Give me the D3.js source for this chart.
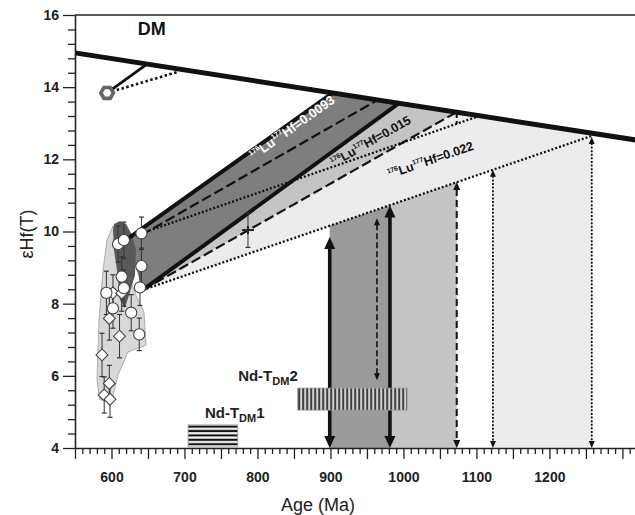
<!DOCTYPE html>
<html><head><meta charset="utf-8">
<script src="https://cdn.jsdelivr.net/npm/d3@7/dist/d3.min.js"></script>
<style>
body{margin:0;background:#fff}
svg{display:block}
text{font-family:"Liberation Sans",Arial,Helvetica,sans-serif}
</style>
</head><body>
<svg id="c" width="635" height="515"></svg>
<script>
// ---------------- data ----------------
const xTickLabels = [600,700,800,900,1000,1100,1200];
const yTickLabels = [4,6,8,10,12,14,16];
const dmLine = [[550,14.95],[1320,12.53]];
// Hf evolution lines  [start],[end on DM]
const solidUpper  = [[621,9.78],[903,13.84]];
const solidLower  = [[643,8.38],[994,13.56]];
const dashedUpper = [[641,9.90],[965,13.65]];
const dashedLower = [[643,8.38],[1073,13.31]];
const dottedUpper = [[641,9.95],[1105,13.21]];
const dottedLower = [[643,8.38],[1258,12.65]];
// model-age bands below the evolution fan: [fromAge, toAge, eHf at from, eHf at to]
const tdmBands = [[899,981.5,10.16,10.73],[981.5,1073,10.73,11.37],[1122.6,1258,11.71,12.65]];
// double arrows: [age, top eHf, bottom eHf]
const thickArrows = [[899,9.85,4.0],[981.5,10.72,4.0]];
const dashArrows  = [[1073,11.37,4.0]];
const thinDashArrows = [[963.7,10.37,5.88]];
const dotArrows   = [[1122.6,11.71,4.0],[1258,12.62,4.0]];
const dashLink    = [[1073,13.31],[1073,12.98]];
// zircon samples: [age, eHf, 2sigma]
const circlePts = [[609,9.65,0.5],[617,9.76,0.5],[641,9.95,0.45],[641,9.04,0.5],[614,8.75,0.55],
  [617,8.43,0.5],[639,8.45,0.5],[593,8.30,0.6],[602,7.87,0.55],[627,7.75,0.5],[638,7.15,0.45]];
const diamondPts = [[602,8.30,0.5],[614,8.29,0.5],[597,7.59,0.6],[611,7.10,0.6],[587,6.58,0.6],
  [597,5.79,0.5],[590,5.47,0.5],[598,5.35,0.5]];
const hexPt = [594,13.84];
const hexToDM = [[594,13.84],[648.6,14.64]];
const hexDotted = [[594,13.84],[690,14.42]];
const crossPt = [787,10.04,0.48];
// sample envelopes
const darkEnvelope = [[602.1,10.04],[603.4,10.21],[611.6,10.29],[619.9,10.21],[628.1,9.90],[633.6,9.49],
  [632.2,8.79],[625.3,8.32],[618.5,7.88],[611.6,8.10],[607.5,8.93],[603.4,9.49]];
const lightEnvelope = [[593.8,9.76],[602.1,10.15],[614.4,9.21],[636.3,8.10],[644.5,7.77],[647.3,6.85],
  [622.6,6.66],[608.9,6.02],[600.7,5.33],[584.2,5.33],[580.1,5.88],[582.9,7.55],[588.4,8.93]];
// Nd model ages
const ndTdm1 = [[705,773],[4.03,4.64]];
const ndTdm2 = [[855,1005],[5.05,5.66]];
const luHfRatios = ["0.0093","0.015","0.022"];

// ---------------- scales ----------------
const svg = d3.select('#c');
const x = d3.scaleLinear().domain([550,1320]).range([75,637]);
const y = d3.scaleLinear().domain([4,16]).range([448,15]);
const line = d3.line().x(d=>x(d[0])).y(d=>y(d[1]));
const poly = pts => line(pts) + 'Z';

const defs = svg.append('defs');
const p1 = defs.append('pattern').attr('id','hstripe').attr('patternUnits','userSpaceOnUse')
  .attr('width',6).attr('height',4.4).attr('y', y(ndTdm1[1][1]));
p1.append('rect').attr('width',6).attr('height',4.4).attr('fill','#fff');
p1.append('rect').attr('y',0.6).attr('width',6).attr('height',2.2).attr('fill','#111');
const p2 = defs.append('pattern').attr('id','vstripe').attr('patternUnits','userSpaceOnUse')
  .attr('width',4).attr('height',6).attr('x', x(ndTdm2[0][0]));
p2.append('rect').attr('width',4).attr('height',6).attr('fill','#fff');
p2.append('rect').attr('x',0.5).attr('width',2).attr('height',6).attr('fill','#111');

// ---------------- fills ----------------
const bandFill = ['#9a9a9a','#c4c4c4','#ececec'];
svg.append('path').attr('d', poly([dottedLower[0], dashedLower[1], dottedLower[1]])).attr('fill','#ececec');
svg.append('path').attr('d', poly([solidLower[0], solidLower[1], dashedLower[1]])).attr('fill','#c4c4c4');
svg.append('path').attr('d', poly([solidUpper[0], solidUpper[1], solidLower[1], solidLower[0]])).attr('fill','#7e7e7e');
tdmBands.forEach((b,i)=>{
  svg.append('path').attr('d', poly([[b[0],4],[b[0],b[2]],[b[1],b[3]],[b[1],4]])).attr('fill',bandFill[i]);
});
svg.append('path').attr('d', poly(lightEnvelope)).attr('fill','#d8d8d8').attr('stroke','#9a9a9a').attr('stroke-width',0.8);
svg.append('path').attr('d', poly(darkEnvelope)).attr('fill','#595959');

// ---------------- lines ----------------
function drawLine(pts, w, dash, col){
  const p = svg.append('path').attr('d', line(pts)).attr('fill','none')
    .attr('stroke', col||'#111').attr('stroke-width', w);
  if (dash) p.attr('stroke-dasharray', dash);
  return p;
}
drawLine(dottedUpper, 2.3, '2,2');
drawLine(dottedLower, 2.3, '2,2');
drawLine(dashedUpper, 2.2, '10,4');
drawLine(dashedLower, 2.2, '10,4');
drawLine(solidUpper, 4);
drawLine(solidLower, 4);
drawLine(dashLink, 2, '6,3');
drawLine(hexDotted, 2.6, '2.5,2.5');
drawLine(hexToDM, 2.8);
drawLine(dmLine, 5);

// ---------------- arrows ----------------
function dArrow(a, eTop, eBot, w, hw, hl, dash){
  const X = x(a), y0 = y(eTop), y1 = y(eBot);
  const p = svg.append('line').attr('x1',X).attr('x2',X).attr('y1',y0+hl-1).attr('y2',y1-hl+1)
    .attr('stroke','#111').attr('stroke-width',w);
  if (dash) p.attr('stroke-dasharray',dash);
  svg.append('path').attr('d',`M${X},${y0}L${X-hw},${y0+hl}L${X+hw},${y0+hl}Z`).attr('fill','#111');
  svg.append('path').attr('d',`M${X},${y1}L${X-hw},${y1-hl}L${X+hw},${y1-hl}Z`).attr('fill','#111');
}
thickArrows.forEach(d=>dArrow(d[0],d[1],d[2],3.6,5.5,12,null));
dashArrows.forEach(d=>dArrow(d[0],d[1],d[2],2,3.5,8,'7,4'));
thinDashArrows.forEach(d=>dArrow(d[0],d[1],d[2],1.6,3,7,'6,3'));
dotArrows.forEach(d=>dArrow(d[0],d[1],d[2],1.8,3,7,'2,1.6'));

// ---------------- points ----------------
function errBar(a,e,s){
  const X=x(a);
  svg.append('line').attr('x1',X).attr('x2',X).attr('y1',y(e-s)).attr('y2',y(e+s)).attr('stroke','#333').attr('stroke-width',1);
  [e-s,e+s].forEach(v=>svg.append('line').attr('x1',X-2.5).attr('x2',X+2.5).attr('y1',y(v)).attr('y2',y(v)).attr('stroke','#333').attr('stroke-width',1.2));
}
diamondPts.forEach(d=>errBar(d[0],d[1],d[2]));
circlePts.forEach(d=>errBar(d[0],d[1],d[2]));
const dSym = d3.symbol().type(d3.symbolDiamond2).size(90);
diamondPts.forEach(d=>{
  svg.append('path').attr('d',dSym()).attr('transform',`translate(${x(d[0])},${y(d[1])})`)
    .attr('fill','#fff').attr('stroke','#444').attr('stroke-width',1.1);
});
circlePts.forEach(d=>{
  svg.append('circle').attr('cx',x(d[0])).attr('cy',y(d[1])).attr('r',5.6)
    .attr('fill','#fff').attr('stroke','#444').attr('stroke-width',1.1);
});
{
  const cx=x(hexPt[0]), cy=y(hexPt[1]), r=6.3;
  const hp = d3.range(6).map(i=>[cx+r*Math.cos(Math.PI/3*i), cy+r*Math.sin(Math.PI/3*i)]);
  svg.append('path').attr('d','M'+hp.join('L')+'Z').attr('fill','#fff').attr('stroke','#666').attr('stroke-width',3.6);
}
{
  const X=x(crossPt[0]), Y=y(crossPt[1]);
  errBar(crossPt[0],crossPt[1],crossPt[2]);
  svg.append('line').attr('x1',X-6).attr('x2',X+6).attr('y1',Y).attr('y2',Y).attr('stroke','#222').attr('stroke-width',2);
  svg.append('line').attr('x1',X).attr('x2',X).attr('y1',Y-4).attr('y2',Y+4).attr('stroke','#222').attr('stroke-width',2);
}

// ---------------- Nd boxes ----------------
svg.append('rect').attr('x',x(ndTdm1[0][0])).attr('y',y(ndTdm1[1][1]))
  .attr('width',x(ndTdm1[0][1])-x(ndTdm1[0][0])).attr('height',y(ndTdm1[1][0])-y(ndTdm1[1][1]))
  .attr('fill','url(#hstripe)').attr('stroke','#999').attr('stroke-width',0.8);
svg.append('rect').attr('x',x(ndTdm2[0][0])).attr('y',y(ndTdm2[1][1]))
  .attr('width',x(ndTdm2[0][1])-x(ndTdm2[0][0])).attr('height',y(ndTdm2[1][0])-y(ndTdm2[1][1]))
  .attr('fill','url(#vstripe)').attr('stroke','#999').attr('stroke-width',0.8);
function ndLabel(a,e,n){
  const t = svg.append('text').attr('x',x(a)).attr('y',y(e)).attr('font-size',15).attr('font-weight','bold').attr('fill','#222');
  t.append('tspan').text('Nd-T');
  t.append('tspan').attr('font-size',11).attr('dy',4).text('DM');
  t.append('tspan').attr('dy',-4).text(n);
}
ndLabel(773.5,5.86,'2');
ndLabel(728,4.83,'1');

// ---------------- fan labels ----------------
function luLabel(lineRef, a, e, val, size, col){
  const ang = Math.atan2(y(lineRef[1][1])-y(lineRef[0][1]), x(lineRef[1][0])-x(lineRef[0][0]))*180/Math.PI;
  const t = svg.append('text').attr('transform',`translate(${x(a)},${y(e)}) rotate(${ang})`)
    .attr('text-anchor','middle').attr('dy','0.35em').attr('font-size',size).attr('font-weight','bold').attr('fill',col);
  const s = size*0.55, up = size*0.42;
  t.append('tspan').attr('font-size',s).attr('dy',-up).text('176');
  t.append('tspan').attr('dy',up).text('Lu');
  t.append('tspan').attr('font-size',s).attr('dy',-up).text('177');
  t.append('tspan').attr('dy',up).text('Hf=' + val);
}
luLabel(solidUpper, 851, 12.78, luHfRatios[0], 13, '#fff');
luLabel(dashedLower, 958, 12.40, luHfRatios[1], 12.5, '#111');
luLabel(dottedLower, 1039, 11.87, luHfRatios[2], 12.5, '#111');

svg.append('text').attr('x',x(636)).attr('y',y(15.45)).attr('font-size',18).attr('font-weight','bold').attr('fill','#111').text('DM');

// ---------------- axes ----------------
const minorX = d3.range(550,1321,10).filter(d=>d%50!==0);
const gx1 = svg.append('g').attr('transform',`translate(0,${y(4)})`)
  .call(d3.axisBottom(x).tickValues(minorX).tickSize(6).tickSizeOuter(0).tickFormat(''));
gx1.select('.domain').remove();
const gx2 = svg.append('g').attr('transform',`translate(0,${y(4)})`)
  .call(d3.axisBottom(x).tickValues(d3.range(550,1321,50)).tickSize(11).tickSizeOuter(0).tickPadding(13)
    .tickFormat(d=> xTickLabels.includes(d) ? d : ''));
[gx1,gx2].forEach(g=>{g.selectAll('line').attr('stroke','#222').attr('stroke-width',1.3);});
gx2.select('.domain').attr('stroke','#222').attr('stroke-width',1.6);
gx2.selectAll('text').attr('font-size',14).attr('font-weight','bold').attr('fill','#222')
  .style('font-family','"Liberation Sans",Arial,sans-serif');

const minorY = d3.range(0,31).map(i=>4+i*0.4).filter(d=>Math.abs(d/2-Math.round(d/2))>0.01);
const gy1 = svg.append('g').attr('transform',`translate(${x(550)},0)`)
  .call(d3.axisLeft(y).tickValues(minorY).tickSize(7).tickSizeOuter(0).tickFormat(''));
gy1.select('.domain').remove();
const gy2 = svg.append('g').attr('transform',`translate(${x(550)},0)`)
  .call(d3.axisLeft(y).tickValues(yTickLabels).tickSize(12).tickSizeOuter(0).tickPadding(4));
[gy1,gy2].forEach(g=>{g.selectAll('line').attr('stroke','#222').attr('stroke-width',1.3);});
gy2.select('.domain').attr('stroke','#222').attr('stroke-width',1.6);
gy2.selectAll('text').attr('font-size',14).attr('font-weight','bold').attr('fill','#222')
  .style('font-family','"Liberation Sans",Arial,sans-serif');
svg.append('line').attr('x1',x(550)).attr('x2',x(1320)).attr('y1',y(16)).attr('y2',y(16)).attr('stroke','#222').attr('stroke-width',1.6);

svg.append('text').attr('x',318).attr('y',511).attr('text-anchor','middle').attr('font-size',18).attr('fill','#222').text('Age (Ma)');
svg.append('text').attr('transform','translate(33,234) rotate(-90)').attr('text-anchor','middle').attr('font-size',18).attr('fill','#222').text('εHf(T)');
</script>
</body></html>
